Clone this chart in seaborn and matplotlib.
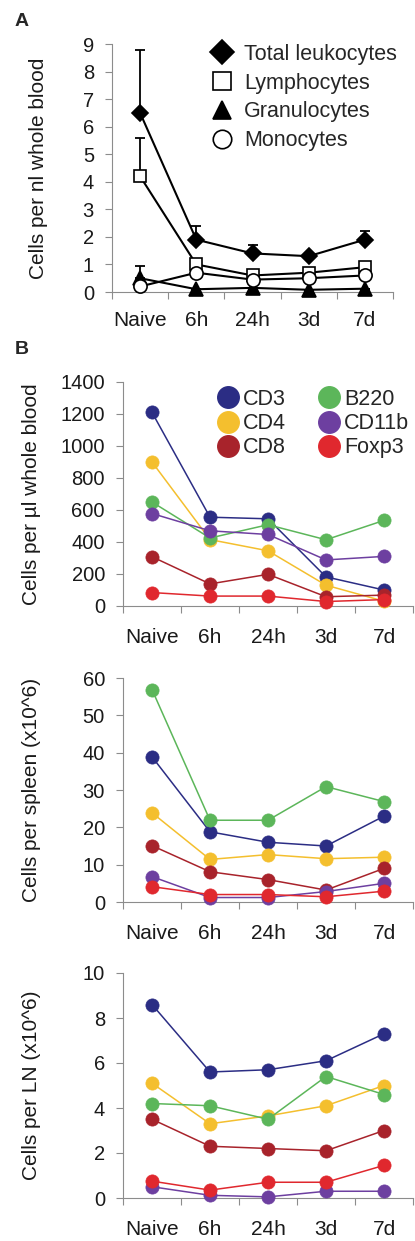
import numpy as np
import pandas as pd
import matplotlib
matplotlib.use("Agg")
import matplotlib.pyplot as plt
from matplotlib.lines import Line2D
import seaborn as sns

sns.set_theme(style="white")
plt.rcParams['font.family'] = ['Liberation Sans', 'DejaVu Sans']

timepoints = ["Naive", "6h", "24h", "3d", "7d"]

# Panel A (cells per nl whole blood)
total_leuko = [6.5, 1.9, 1.4, 1.3, 1.9]
total_leuko_err = [2.3, 0.5, 0.3, 0.0, 0.3]
lymphocytes = [4.2, 1.0, 0.6, 0.7, 0.9]
lymphocytes_err = [1.4, 0.0, 0.0, 0.0, 0.0]
granulocytes = [0.5, 0.1, 0.15, 0.08, 0.12]
granulocytes_err = [0.45, 0.0, 0.0, 0.0, 0.0]
monocytes = [0.2, 0.7, 0.45, 0.5, 0.6]

# Panel B markers
markers_b = ["CD3", "CD4", "CD8", "B220", "CD11b", "Foxp3"]
blood = {
    "CD3": [1210, 555, 545, 182, 100],
    "CD4": [900, 415, 345, 130, 30],
    "CD8": [308, 138, 198, 58, 68],
    "B220": [650, 425, 508, 414, 535],
    "CD11b": [578, 470, 447, 288, 310],
    "Foxp3": [84, 62, 62, 28, 40],
}
spleen = {
    "CD3": [38.9, 18.8, 16.0, 15.0, 23.0],
    "CD4": [23.9, 11.4, 12.7, 11.6, 12.0],
    "CD8": [15.1, 8.1, 6.0, 3.2, 9.0],
    "B220": [56.9, 21.9, 21.9, 30.9, 26.9],
    "CD11b": [6.8, 1.2, 1.2, 2.8, 5.0],
    "Foxp3": [4.1, 2.0, 2.0, 1.4, 2.9],
}
lymph_node = {
    "CD3": [8.6, 5.6, 5.7, 6.1, 7.3],
    "CD4": [5.1, 3.3, 3.65, 4.1, 5.0],
    "CD8": [3.5, 2.3, 2.2, 2.1, 3.0],
    "B220": [4.2, 4.1, 3.5, 5.4, 4.6],
    "CD11b": [0.5, 0.12, 0.05, 0.3, 0.3],
    "Foxp3": [0.75, 0.35, 0.7, 0.7, 1.45],
}
colors_b = {
    "CD3": "#2b2d84",
    "CD4": "#f4bf2e",
    "CD8": "#a8232b",
    "B220": "#5cb65a",
    "CD11b": "#6d3fa0",
    "Foxp3": "#e0282e",
}

W, H = 415, 1241
fig = plt.figure(figsize=(W / 100, H / 100), dpi=100)

def ax_rect(left, right, top, bottom):
    return [left / W, 1 - bottom / H, (right - left) / W, (bottom - top) / H]

FS_X = 15
FS_Y = 14.5
FS_LAB = 15
FS_LEG = 15.5
spine_c = "#8c8c8c"
txt_c = "#1a1a1a"

def style_axes(ax, ylim, yticks, ylabel, xpad):
    ax.set_xlim(-0.5, 4.5)
    ax.set_ylim(*ylim)
    ax.set_yticks(yticks)
    ax.set_xticks(range(5))
    ax.set_xticklabels(timepoints, fontsize=FS_X)
    ax.set_xticks(np.arange(-0.5, 5.0, 1.0), minor=True)
    for s in ["top", "right"]:
        ax.spines[s].set_visible(False)
    for s in ["left", "bottom"]:
        ax.spines[s].set_color(spine_c)
        ax.spines[s].set_linewidth(0.8)
    ax.tick_params(axis="x", which="major", length=0, pad=xpad, labelsize=FS_X, colors=txt_c)
    ax.tick_params(axis="x", which="minor", length=5, width=0.8, color=spine_c, direction="out", bottom=True)
    ax.tick_params(axis="y", which="major", length=5, width=0.8, color=spine_c, direction="out", left=True,
                   labelsize=FS_Y, labelcolor=txt_c, pad=8)
    ax.set_ylabel(ylabel, fontsize=FS_LAB, color=txt_c)
    ax.set_xlabel("")
    ax.grid(False)

# ---------- Panel A ----------
axA = fig.add_axes(ax_rect(112, 393, 44, 292))
x_idx = np.arange(5)
seriesA = [
    ("Total leukocytes", total_leuko, total_leuko_err, "D", "black", 8.5),
    ("Lymphocytes", lymphocytes, lymphocytes_err, "s", "white", 9),
    ("Granulocytes", granulocytes, granulocytes_err, "^", "black", 9.5),
    ("Monocytes", monocytes, None, "o", "white", 9.5),
]
for name, vals, err, mk, fc, ms in seriesA:
    if err is not None:
        axA.errorbar(x_idx, vals, yerr=[np.zeros(5), err], fmt="none", ecolor="black",
                     elinewidth=1.3, capsize=3.5, capthick=1.3, zorder=2)
    sns.lineplot(x=x_idx, y=vals, ax=axA, color="black", marker=mk, markersize=ms,
                 markerfacecolor=fc, markeredgecolor="black", markeredgewidth=1.2,
                 linewidth=1.5, zorder=3, clip_on=False)
style_axes(axA, (0, 9), range(0, 10), "Cells per nl whole blood", 14)
axA.yaxis.set_label_coords(-0.228, 0.5)
handlesA = [Line2D([0], [0], marker=mk, color="black", lw=0, markersize=ms * 1.4,
                   markerfacecolor=fc, markeredgecolor="black", markeredgewidth=1.2)
            for _, _, _, mk, fc, ms in seriesA]
axA.legend(handlesA, [s[0] for s in seriesA], loc="upper left",
           bbox_to_anchor=(211 / W, 1 - 44 / H), bbox_transform=fig.transFigure,
           frameon=False, fontsize=FS_LEG, handlelength=1.0, handletextpad=0.55,
           labelspacing=0.36, borderaxespad=0, borderpad=0)

# ---------- Panel B ----------
def draw_b(ax, data):
    for m in markers_b:
        sns.lineplot(x=x_idx, y=data[m], ax=ax, color=colors_b[m], marker="o", markersize=9.5,
                     markeredgecolor=colors_b[m], markeredgewidth=0.5,
                     linewidth=1.1, zorder=3, clip_on=False)

axB1 = fig.add_axes(ax_rect(123, 413, 382, 606))
draw_b(axB1, blood)
style_axes(axB1, (0, 1400), range(0, 1401, 200), "Cells per µl whole blood", 16)
axB1.yaxis.set_label_coords(-0.283, 0.5)
handlesB = [Line2D([0], [0], marker="o", color=colors_b[m], lw=0, markersize=15.5,
                   markeredgecolor=colors_b[m]) for m in markers_b]
axB1.legend(handlesB, markers_b, loc="upper left", ncol=2,
            bbox_to_anchor=(217 / W, 1 - 389 / H), bbox_transform=fig.transFigure,
            frameon=False, fontsize=FS_LEG, handlelength=1.0, handletextpad=0.2,
            labelspacing=0.15, columnspacing=1.5, borderaxespad=0, borderpad=0)

axB2 = fig.add_axes(ax_rect(123, 413, 678, 902))
draw_b(axB2, spleen)
style_axes(axB2, (0, 60), range(0, 61, 10), "Cells per spleen (x10^6)", 16)
axB2.yaxis.set_label_coords(-0.283, 0.5)

axB3 = fig.add_axes(ax_rect(123, 413, 973, 1198))
draw_b(axB3, lymph_node)
style_axes(axB3, (0, 10), range(0, 11, 2), "Cells per LN (x10^6)", 16)
axB3.yaxis.set_label_coords(-0.283, 0.5)

fig.text(15 / W, 1 - 22 / H, "A", fontsize=14, fontweight="bold", va="center", ha="left")
fig.text(15 / W, 1 - 349 / H, "B", fontsize=14, fontweight="bold", va="center", ha="left")

fig.savefig("out.png", dpi=100)
